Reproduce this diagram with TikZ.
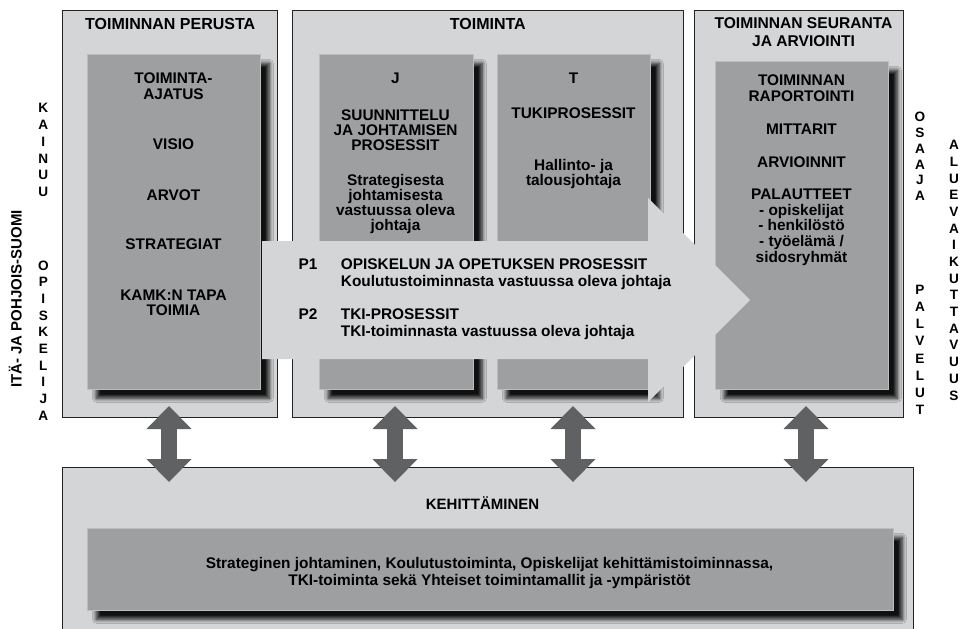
\documentclass[tikz,border=0pt]{standalone}
\usepackage{fontspec}
\setmainfont{Liberation Sans}
\usetikzlibrary{shadows.blur,arrows.meta}

\definecolor{panelgray}{RGB}{212,213,215}
\definecolor{cardgray}{RGB}{158,159,161}
\definecolor{cardedge}{RGB}{188,189,191}
\definecolor{linkgray}{RGB}{96,97,99}
\definecolor{framegray}{RGB}{35,35,35}

% Multi-line text nodes are placed by the baseline of their last line.
\tikzset{
  panel/.style={draw=framegray, line width=0.9pt, fill=panelgray,
    anchor=north west, inner sep=0pt},
  card/.style={fill=cardgray, draw=cardedge, line width=0.6pt,
    anchor=north west, inner sep=0pt,
    blur shadow={shadow xshift=9pt, shadow yshift=-9pt,
      shadow blur radius=4pt, shadow blur steps=10, shadow opacity=92}},
  txt/.style={font=\bfseries\fontsize{15.4}{15.4}\selectfont,
    inner sep=0pt, anchor=base, align=center, text=black},
  lead/.style={font=\bfseries\fontsize{15.4}{#1}\selectfont},
  headline/.style={txt, font=\bfseries\fontsize{16}{18.4}\selectfont},
  stack/.style={txt, font=\bfseries\fontsize{13.6}{#1}\selectfont},
  twoway/.style={draw=linkgray, line width=16pt,
    {Triangle[width=45pt,length=23pt,line width=0pt]}-{Triangle[width=45pt,length=23pt,line width=0pt]}},
}

\begin{document}
\begin{tikzpicture}[x=1pt, y=-1pt]
\useasboundingbox (0,0) rectangle (961,629);
\clip (0,0) rectangle (961,629);
\fill[white] (0,0) rectangle (961,629);

% outer panels
\node[panel, minimum width=215pt, minimum height=407pt] (perusta) at (62,10) {};
\node[panel, minimum width=391pt, minimum height=407pt] (toiminta) at (292,10) {};
\node[panel, minimum width=209pt, minimum height=407pt] (seuranta) at (694,10) {};
\node[panel, minimum width=851pt, minimum height=173pt] (kehitys) at (62,467) {};

% inner cards with drop shadows
\node[card, minimum width=173pt, minimum height=335pt] (perustacard) at (87,54) {};
\node[card, minimum width=154pt, minimum height=335pt] (jcard) at (319,54) {};
\node[card, minimum width=153pt, minimum height=335pt] (tcard) at (497,54) {};
\node[card, minimum width=173pt, minimum height=328pt] (seurantacard) at (715,61) {};
\node[card, minimum width=806pt, minimum height=82pt] (kehityscard) at (87,528) {};

% process arrow across the panels
\fill[panelgray] (262,241) -- (648,241) -- (648,198) -- (750,300)
  -- (648,402) -- (648,359) -- (262,359) -- cycle;

% panel headings
\node[headline] (h1) at (170.2,29.3) {TOIMINNAN PERUSTA};
\node[headline] (h2) at (487.8,29.3) {TOIMINTA};
\node[headline, font=\bfseries\fontsize{15.6}{18.4}\selectfont] (h3) at (803.5,46.7) {TOIMINNAN SEURANTA\\JA ARVIOINTI};

% foundation card
\node[txt, lead=15.7] (p1) at (173.5,99) {TOIMINTA-\\AJATUS};
\node[txt] (p2) at (173.5,149) {VISIO};
\node[txt] (p3) at (173.5,200) {ARVOT};
\node[txt] (p4) at (173.5,249.3) {STRATEGIAT};
\node[txt, lead=15.7] (p5) at (173.5,315.7) {KAMK:N TAPA\\TOIMIA};

% J card
\node[txt] (j1) at (395.5,83.3) {J};
\node[txt, lead=15.4] (j2) at (395.5,150.8) {SUUNNITTELU\\JA JOHTAMISEN\\PROSESSIT};
\node[txt, lead=15.3] (j3) at (395.5,230.9) {Strategisesta\\johtamisesta\\vastuussa oleva\\johtaja};

% T card
\node[txt] (t1) at (573.5,83.3) {T};
\node[txt] (t2) at (573.5,118) {TUKIPROSESSIT};
\node[txt, lead=15] (t3) at (573.5,185) {Hallinto- ja\\talousjohtaja};

% follow-up card
\node[txt, lead=15.3] (s1) at (801.5,101) {TOIMINNAN\\RAPORTOINTI};
\node[txt] (s2) at (801.5,134.3) {MITTARIT};
\node[txt] (s3) at (801.5,167.7) {ARVIOINNIT};
\node[txt, lead=15.8] (s4) at (801.5,262.5) {PALAUTTEET\\- opiskelijat\\- henkilöstö\\- työelämä /\\sidosryhmät};

% processes inside the arrow
\node[txt, anchor=base west] (pa) at (298.3,269.3) {P1};
\node[txt, anchor=base west, align=left, lead=17.4] (pat) at (340.7,286.7) {OPISKELUN JA OPETUKSEN PROSESSIT\\Koulutustoiminnasta vastuussa oleva johtaja};
\node[txt, anchor=base west] (pb) at (298.3,319.3) {P2};
\node[txt, anchor=base west, align=left, lead=17.4] (pbt) at (340.7,336.7) {TKI-PROSESSIT\\TKI-toiminnasta vastuussa oleva johtaja};

% development panel
\node[txt, font=\bfseries\fontsize{15}{15}\selectfont] (kh) at (482.5,509.3) {KEHITTÄMINEN};
\node[txt, lead=16.7] (kd) at (489.5,585) {Strateginen johtaminen, Koulutustoiminta, Opiskelijat kehittämistoiminnassa,\\TKI-toiminta sekä Yhteiset toimintamallit ja -ympäristöt};

% side labels
\node[txt, font=\bfseries\fontsize{15}{15}\selectfont, rotate=90] (alue) at (21.7,299) {ITÄ- JA POHJOIS-SUOMI};
\node[stack=16.9] (kainuu) at (43.3,196.8) {K\\A\\I\\N\\U\\U};
\node[stack=16.7] (opiskelija) at (43.3,420.3) {O\\P\\I\\S\\K\\E\\L\\I\\J\\A};
\node[stack=15.8] (osaaja) at (920,200.7) {O\\S\\A\\A\\J\\A};
\node[stack=17.2] (palvelut) at (920,414.7) {P\\A\\L\\V\\E\\L\\U\\T};
\node[stack=16.67] (vaikuttavuus) at (954,400) {A\\L\\U\\E\\V\\A\\I\\K\\U\\T\\T\\A\\V\\U\\U\\S};

% two-way links between the panels and development
\coordinate (u1) at (169,406);   \coordinate (d1) at (169,482);
\coordinate (u2) at (395,406);   \coordinate (d2) at (395,482);
\coordinate (u3) at (573,406);   \coordinate (d3) at (573,482);
\coordinate (u4) at (806,406);   \coordinate (d4) at (806,482);
\draw[twoway] (u1) -- (d1);
\draw[twoway] (u2) -- (d2);
\draw[twoway] (u3) -- (d3);
\draw[twoway] (u4) -- (d4);
\end{tikzpicture}
\end{document}
